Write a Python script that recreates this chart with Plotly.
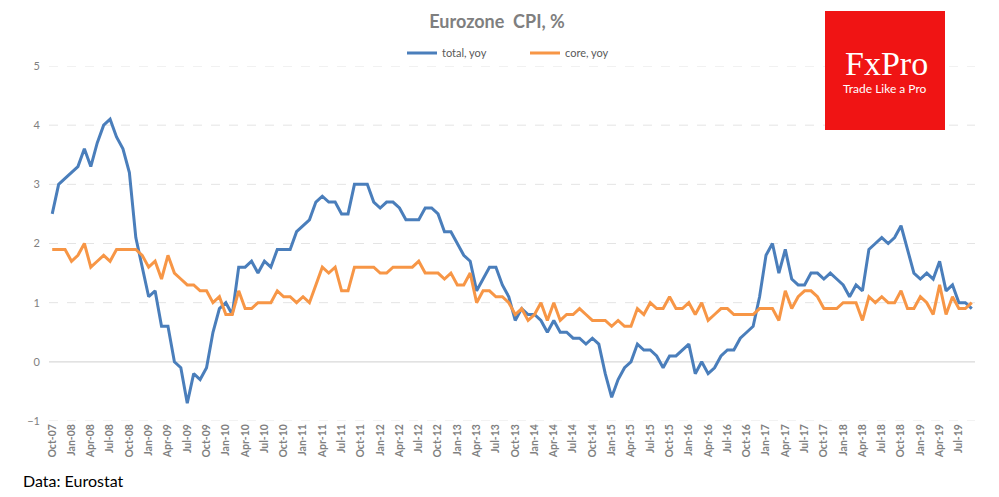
import plotly.graph_objects as go

months = ["Jan", "Feb", "Mar", "Apr", "May", "Jun", "Jul", "Aug", "Sep", "Oct", "Nov", "Dec"]
# Monthly categories Oct-07 .. Sep-19
categories = []
for y in range(2007, 2020):
    for m in range(12):
        if (y == 2007 and m < 9) or (y == 2019 and m > 8):
            continue
        categories.append(f"{months[m]}-{str(y)[2:]}")

total_yoy = [
    2.5, 3.0, 3.1,
    3.2, 3.3, 3.6, 3.3, 3.7, 4.0, 4.1, 3.8, 3.6, 3.2, 2.1, 1.6,
    1.1, 1.2, 0.6, 0.6, 0.0, -0.1, -0.7, -0.2, -0.3, -0.1, 0.5, 0.9,
    1.0, 0.8, 1.6, 1.6, 1.7, 1.5, 1.7, 1.6, 1.9, 1.9, 1.9, 2.2,
    2.3, 2.4, 2.7, 2.8, 2.7, 2.7, 2.5, 2.5, 3.0, 3.0, 3.0, 2.7,
    2.6, 2.7, 2.7, 2.6, 2.4, 2.4, 2.4, 2.6, 2.6, 2.5, 2.2, 2.2,
    2.0, 1.8, 1.7, 1.2, 1.4, 1.6, 1.6, 1.3, 1.1, 0.7, 0.9, 0.8,
    0.8, 0.7, 0.5, 0.7, 0.5, 0.5, 0.4, 0.4, 0.3, 0.4, 0.3, -0.2,
    -0.6, -0.3, -0.1, 0.0, 0.3, 0.2, 0.2, 0.1, -0.1, 0.1, 0.1, 0.2,
    0.3, -0.2, 0.0, -0.2, -0.1, 0.1, 0.2, 0.2, 0.4, 0.5, 0.6, 1.1,
    1.8, 2.0, 1.5, 1.9, 1.4, 1.3, 1.3, 1.5, 1.5, 1.4, 1.5, 1.4,
    1.3, 1.1, 1.3, 1.2, 1.9, 2.0, 2.1, 2.0, 2.1, 2.3, 1.9, 1.5,
    1.4, 1.5, 1.4, 1.7, 1.2, 1.3, 1.0, 1.0, 0.9,
]

core_yoy = [
    1.9, 1.9, 1.9,
    1.7, 1.8, 2.0, 1.6, 1.7, 1.8, 1.7, 1.9, 1.9, 1.9, 1.9, 1.8,
    1.6, 1.7, 1.4, 1.8, 1.5, 1.4, 1.3, 1.3, 1.2, 1.2, 1.0, 1.1,
    0.8, 0.8, 1.2, 0.9, 0.9, 1.0, 1.0, 1.0, 1.2, 1.1, 1.1, 1.0,
    1.1, 1.0, 1.3, 1.6, 1.5, 1.6, 1.2, 1.2, 1.6, 1.6, 1.6, 1.6,
    1.5, 1.5, 1.6, 1.6, 1.6, 1.6, 1.7, 1.5, 1.5, 1.5, 1.4, 1.5,
    1.3, 1.3, 1.5, 1.0, 1.2, 1.2, 1.1, 1.1, 1.0, 0.8, 0.9, 0.7,
    0.8, 1.0, 0.7, 1.0, 0.7, 0.8, 0.8, 0.9, 0.8, 0.7, 0.7, 0.7,
    0.6, 0.7, 0.6, 0.6, 0.9, 0.8, 1.0, 0.9, 0.9, 1.1, 0.9, 0.9,
    1.0, 0.8, 1.0, 0.7, 0.8, 0.9, 0.9, 0.8, 0.8, 0.8, 0.8, 0.9,
    0.9, 0.9, 0.7, 1.2, 0.9, 1.1, 1.2, 1.2, 1.1, 0.9, 0.9, 0.9,
    1.0, 1.0, 1.0, 0.7, 1.1, 1.0, 1.1, 1.0, 1.0, 1.2, 0.9, 0.9,
    1.1, 1.0, 0.8, 1.3, 0.8, 1.1, 0.9, 0.9, 1.0,
]

tick_labels = categories[::3]
y_ticks = [-1, 0, 1, 2, 3, 4, 5]

idx = list(range(len(categories)))

# page is rendered with an 8px body margin; figure spans page (8,8)-(999,497)
OFF = 8
W, H = 999 - OFF, 497 - OFF
# plot area in page pixels: x 49..975, y 66..421
ML, MR, MT, MB = 49 - OFF, 999 - 975, 66 - OFF, 497 - 421
PW, PH = W - ML - MR, H - MT - MB

def px_x(x):
    return (x - OFF - ML) / PW

def px_y(y):
    return (H - MB - (y - OFF)) / PH

fig = go.Figure()
fig.add_trace(go.Scatter(x=idx, y=total_yoy, mode="lines", name="total, yoy",
                         line=dict(color="#4a7ebb", width=3), legend="legend"))
fig.add_trace(go.Scatter(x=idx, y=core_yoy, mode="lines", name="core, yoy",
                         line=dict(color="#f79646", width=3), legend="legend2"))

grid_color = "#e4e4e4"
for v in y_ticks:
    if v == 0:
        continue
    fig.add_shape(type="line", xref="paper", yref="y", x0=0, x1=1, y0=v, y1=v,
                  line=dict(color=grid_color, width=1, dash="dash"), layer="below")
fig.add_shape(type="line", xref="paper", yref="y", x0=0, x1=1, y0=0, y1=0,
              line=dict(color="#d9d9d9", width=1.3), layer="below")

# Logo
fig.add_shape(type="rect", xref="paper", yref="paper",
              x0=px_x(825), x1=px_x(945), y0=px_y(130), y1=px_y(11),
              fillcolor="#f01414", line=dict(width=0), layer="above")
fig.add_annotation(xref="paper", yref="paper", x=px_x(886), y=px_y(63),
                   text="FxPro", showarrow=False,
                   font=dict(family="Liberation Serif, serif", size=34, color="white"),
                   xanchor="center", yanchor="middle")
fig.add_annotation(xref="paper", yref="paper", x=px_x(885), y=px_y(88),
                   text="Trade Like a Pro", showarrow=False,
                   font=dict(family="Lato, Open Sans, sans-serif", size=12, color="white"),
                   xanchor="center", yanchor="middle")

fig.add_annotation(xref="paper", yref="paper", x=px_x(21), y=px_y(480),
                   text="Data: Eurostat", showarrow=False,
                   font=dict(family="Lato, Open Sans, sans-serif", size=16, color="#000000"),
                   xanchor="left", yanchor="middle")

legend_font = dict(family="Lato, Open Sans, sans-serif", size=11, color="#595959")

fig.update_layout(
    width=W, height=H,
    margin=dict(l=ML, r=MR, t=MT, b=MB),
    paper_bgcolor="white", plot_bgcolor="white",
    title=dict(text="<b>Eurozone  CPI, %</b>", x=px_x(506), xanchor="center",
               y=1 - (22 - OFF) / H, yanchor="middle",
               font=dict(family="Lato, Open Sans, sans-serif", size=18, color="#7f7f7f")),
    legend=dict(orientation="h", x=px_x(402), xanchor="left", y=px_y(53), yanchor="middle",
                font=legend_font, itemwidth=30, bgcolor="rgba(0,0,0,0)"),
    legend2=dict(orientation="h", x=px_x(525), xanchor="left", y=px_y(53), yanchor="middle",
                 font=legend_font, itemwidth=30, bgcolor="rgba(0,0,0,0)"),
    showlegend=True,
    xaxis=dict(range=[-0.5, len(categories) - 0.5], tickmode="array",
               tickvals=idx[::3], ticktext=tick_labels, tickangle=-90,
               showgrid=False, zeroline=False, showline=False, ticks="",
               tickfont=dict(family="Lato, sans-serif", size=10.5, color="#7f7f7f", weight="bold"),
               fixedrange=True),
    yaxis=dict(range=[-1, 5], tickmode="array", tickvals=y_ticks,
               showgrid=False, zeroline=False, showline=False, ticks="",
               ticklabelstandoff=8,
               tickfont=dict(family="Lato, Open Sans, sans-serif", size=11, color="#7f7f7f"),
               fixedrange=True),
)

fig.write_html("out.html")
